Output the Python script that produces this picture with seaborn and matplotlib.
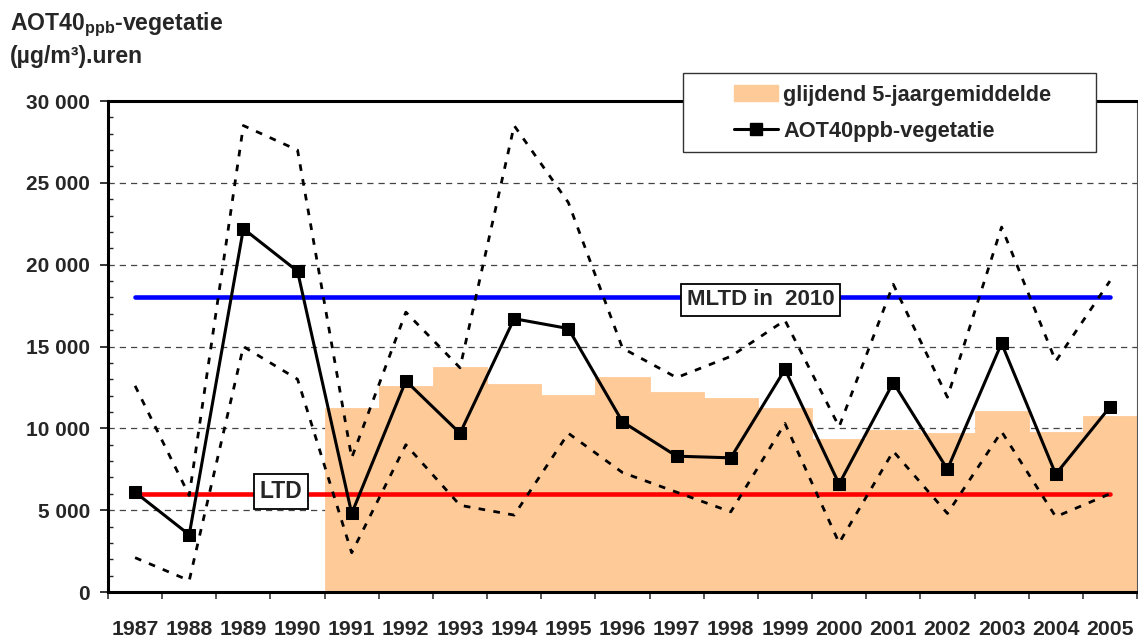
import numpy as np
import pandas as pd
import matplotlib
matplotlib.use('Agg')
import matplotlib.pyplot as plt
from matplotlib.patches import Rectangle, Patch
from matplotlib.lines import Line2D
from matplotlib.ticker import MultipleLocator
import seaborn as sns

# gegevens
years = ['1987', '1988', '1989', '1990', '1991', '1992', '1993', '1994', '1995', '1996',
         '1997', '1998', '1999', '2000', '2001', '2002', '2003', '2004', '2005']
aot40 = [6100, 3500, 22200, 19600, 4800, 12900, 9700, 16700, 16100, 10400,
         8300, 8200, 13600, 6600, 12800, 7500, 15200, 7200, 11300]
upper = [12600, 5900, 28500, 27000, 8200, 17100, 13700, 28500, 23800, 14900,
         13100, 14400, 16600, 10100, 18800, 11900, 22300, 14100, 19000]
lower = [2100, 700, 15000, 13000, 2400, 9000, 5300, 4700, 9700, 7300,
         6100, 4900, 10300, 3000, 8600, 4800, 9800, 4600, 6000]
avg_years = years[4:]
avg5 = [11250, 12600, 13750, 12700, 12050, 13150, 12200, 11850, 11250, 9350,
        9900, 9700, 11050, 9800, 10750]
ltd = 6000
mltd = 18000
y_ticks = [0, 5000, 10000, 15000, 20000, 25000, 30000]
y_labels = ['0', '5 000', '10 000', '15 000', '20 000', '25 000', '30 000']

df = pd.DataFrame({'pos': np.arange(len(years)), 'year': years,
                   'aot40': aot40, 'upper': upper, 'lower': lower})

sns.set_style('ticks')
plt.rcParams['font.family'] = ['Liberation Sans', 'DejaVu Sans']
plt.rcParams['font.weight'] = 'bold'
plt.rcParams['mathtext.fontset'] = 'custom'
plt.rcParams['mathtext.bf'] = 'Liberation Sans:bold'
plt.rcParams['mathtext.rm'] = 'Liberation Sans:bold'

bar_color = '#FECA98'

fig = plt.figure(figsize=(11.38, 6.37), dpi=100)
ax = fig.add_axes([0.0949, 0.0706, 0.9042, 0.7708])

# glijdend gemiddelde als staven
sns.barplot(x=avg_years, y=avg5, order=years, color=bar_color, saturation=1,
            width=1.0, edgecolor=bar_color, linewidth=0.6, ax=ax)

# stippellijnen (max / min)
dash = (0, (2.4, 3.0))
sns.lineplot(data=df, x='pos', y='upper', color='black', lw=2.0, linestyle=dash, ax=ax, zorder=4)
sns.lineplot(data=df, x='pos', y='lower', color='black', lw=2.0, linestyle=dash, ax=ax, zorder=4)

# drempelwaarden
ax.hlines(ltd, 0, len(years) - 1, color='#FF0000', lw=3.3, zorder=3, capstyle='round')
ax.hlines(mltd, 0, len(years) - 1, color='#0000FF', lw=3.3, zorder=3, capstyle='round')

# hoofdreeks
sns.lineplot(data=df, x='pos', y='aot40', color='black', lw=2.2, marker='s', markersize=9,
             markeredgecolor='black', ax=ax, zorder=5)

box = dict(boxstyle='square,pad=0.25', fc='white', ec='black', lw=1.3)
ax.text(2.7, ltd + 150, 'LTD', ha='center', va='center', fontsize=16.5, fontweight='bold',
        bbox=box, zorder=6)
ax.text(11.55, mltd - 150, 'MLTD in  2010', ha='center', va='center', fontsize=16,
        fontweight='bold', bbox=box, zorder=6)

ax.set_xlim(-0.5, len(years) - 0.5)
ax.set_ylim(0, 30000)
ax.set_xlabel('')
ax.set_ylabel('')

ax.set_axisbelow(True)
ax.yaxis.grid(True, color='#444444', linestyle=(0, (5, 4)), lw=0.9)

ax.set_yticks(y_ticks, y_labels)
ax.yaxis.set_minor_locator(MultipleLocator(1000))
ax.tick_params(axis='y', which='major', direction='out', length=6, width=1.3,
               pad=7, labelsize=15)
ax.tick_params(axis='y', which='minor', direction='in', length=3.5, width=1, left=True)

ax.set_xticks(range(len(years)), years)
ax.set_xticks(np.arange(len(years) + 1) - 0.5, minor=True)
ax.tick_params(axis='x', which='major', length=0, pad=20, labelsize=15.3)
ax.tick_params(axis='x', which='minor', direction='out', length=5, width=1.1, bottom=True)
for lab in ax.get_xticklabels() + ax.get_yticklabels():
    lab.set_fontweight('bold')

for side in ['left', 'bottom', 'top']:
    ax.spines[side].set_linewidth(2.2)
    ax.spines[side].set_color('black')
ax.spines['right'].set_linewidth(0.8)
ax.spines['right'].set_color('#555555')

# legenda met ruim kader
frame = Rectangle((0.559, 0.896), 0.401, 0.161, transform=ax.transAxes, fc='white',
                  ec='#333333', lw=1.0, clip_on=False, zorder=10)
ax.add_patch(frame)
handles = [Patch(facecolor=bar_color, edgecolor=bar_color),
           Line2D([], [], color='black', lw=2.2, marker='s', markersize=9)]
leg = ax.legend(handles, ['glijdend 5-jaargemiddelde', 'AOT40ppb-vegetatie'],
                loc='center left', bbox_to_anchor=(0.598, 0.975), frameon=False,
                borderpad=0, handlelength=2.0, handletextpad=0.25, labelspacing=0.7,
                prop={'size': 15.7, 'weight': 'bold'})
leg.set_zorder(11)

fig.text(0.009, 0.953, r'AOT40$_{\mathbf{ppb}}$-vegetatie', fontsize=16.6,
         fontweight='bold', va='baseline')
fig.text(0.009, 0.901, '(µg/m³).uren', fontsize=16.6, fontweight='bold', va='baseline')

fig.savefig('out.png', dpi=100)
